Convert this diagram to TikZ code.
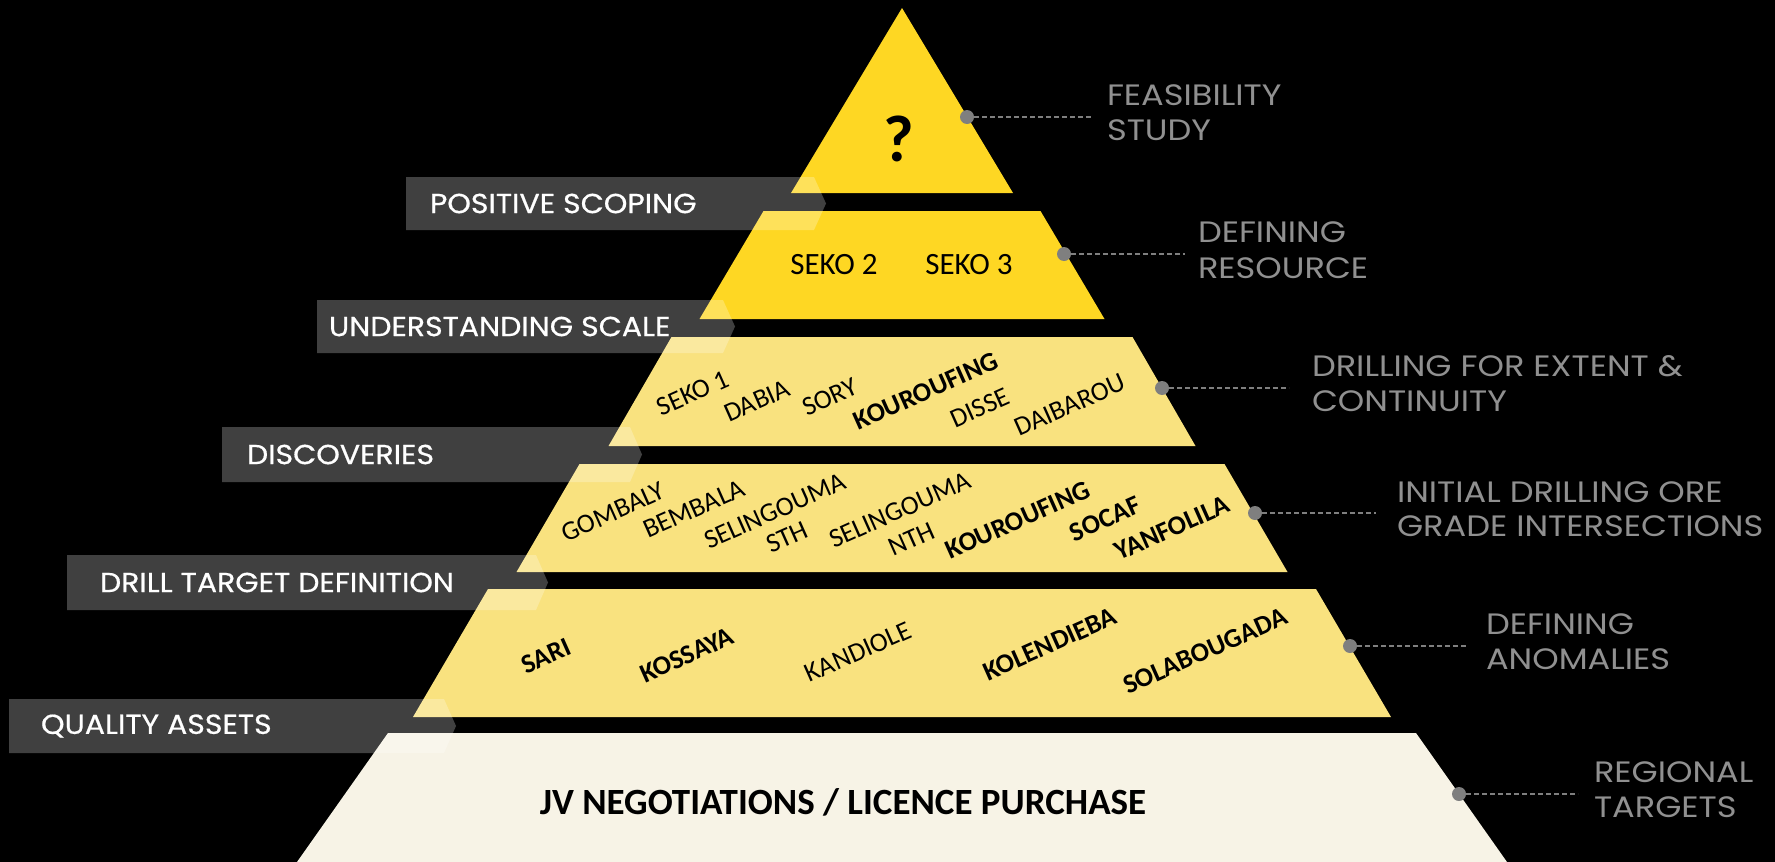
\documentclass[tikz,border=0pt]{standalone}
\usepackage{fontspec}
\setmainfont{Carlito}
\newfontfamily\labfont{Poppins}
\newfontfamily\banfont[FakeBold=0.6]{Poppins}
\definecolor{bright}{HTML}{FED723}
\definecolor{pale}{HTML}{F9E27F}
\definecolor{cream}{HTML}{F7F3E6}
\definecolor{labgray}{HTML}{909090}
\definecolor{dotgray}{HTML}{7F7F7F}
\newcommand{\trappath}[4]{({902-#2},#1) -- ({902+#2},#1) -- ({902+#4},#3) -- ({902-#4},#3) -- cycle}
\newcommand{\banpath}[4]{(#1,#3) -- ({#2-12},#3) -- (#2,{(#3+#4)/2}) -- ({#2-12},#4) -- (#1,#4) -- cycle}
\begin{document}
\begin{tikzpicture}[x=1pt,y=-1pt,
  every node/.style={inner sep=0pt, outer sep=0pt},
  bantext/.style={anchor=west, text=white, xscale=1.09, font=\banfont\fontsize{27.5}{33}\selectfont},
  lab/.style={anchor=base west, text=labgray, xscale=1.14, font=\labfont\fontsize{29.5}{35}\selectfont},
  dotn/.style={circle, fill=dotgray, minimum size=14pt},
  dashline/.style={draw=dotgray, line width=1.5pt, dash pattern=on 5pt off 3pt},
  site/.style={rotate=24, font=\fontsize{27}{32}\selectfont},
  bsite/.style={rotate=24, font=\bfseries\fontsize{27}{32}\selectfont},
  banfill/.style={fill=white, fill opacity=0.25}
]
\fill[black] (0,0) rectangle (1775,862);
\useasboundingbox (0,0) rectangle (1775,862);

% pyramid layers
\fill[bright] (902,8) -- (1013,193) -- (791,193) -- cycle;
\fill[bright] \trappath{211}{138.5}{319}{202.5};
\fill[pale]   \trappath{337}{230.5}{446}{293.5};
\fill[pale]   \trappath{464}{322.5}{572}{385.5};
\fill[pale]   \trappath{589}{414}{717}{489};
\fill[cream]  \trappath{733}{514}{862}{605};

% banners (translucent)
\fill[banfill] \banpath{406}{826}{177}{230};
\fill[banfill] \banpath{317}{735}{300}{353};
\fill[banfill] \banpath{222}{642}{427}{482};
\fill[banfill] \banpath{67}{548}{555}{610};
\fill[banfill] \banpath{9}{456}{699}{753};

\node[bantext] (b1) at (430,203.5) {POSITIVE SCOPING};
\node[bantext] (b2) at (329,326.5) {UNDERSTANDING SCALE};
\node[bantext] (b3) at (247,454.5) {DISCOVERIES};
\node[bantext] (b4) at (100,582.5) {DRILL TARGET DEFINITION};
\node[bantext] (b5) at (41,726) {QUALITY ASSETS};

% layer texts
\node[font=\bfseries\fontsize{66}{70}\selectfont] (q) at (899,139) {?};
\node[font=\fontsize{31}{36}\selectfont] (s2) at (834,265) {SEKO 2};
\node[font=\fontsize{31}{36}\selectfont] (s3) at (969,265) {SEKO 3};

\node[site] (t31) at (693,393) {SEKO 1};
\node[site] (t32) at (757,401) {DABIA};
\node[site] (t33) at (830,397) {SORY};
\node[bsite] (t34) at (926,391) {KOUROUFING};
\node[site] (t35) at (980,408) {DISSE};
\node[site] (t36) at (1070,405) {DAIBAROU};

\node[site] (t41) at (613,512) {GOMBALY};
\node[site] (t42) at (694,509) {BEMBALA};
\node[site] (t43) at (775,511) {SELINGOUMA};
\node[site] (t43b) at (787,537) {STH};
\node[site] (t44) at (900,510) {SELINGOUMA};
\node[site] (t44b) at (912,539) {NTH};
\node[bsite] (t45) at (1018,520) {KOUROUFING};
\node[bsite] (t46) at (1105,519) {SOCAF};
\node[bsite] (t47) at (1172,528) {YANFOLILA};

\node[bsite] (t51) at (546,656) {SARI};
\node[bsite] (t52) at (687,655) {KOSSAYA};
\node[site] (t53) at (858,652) {KANDIOLE};
\node[bsite] (t54) at (1050,644) {KOLENDIEBA};
\node[bsite] (t55) at (1205,651) {SOLABOUGADA};

\node[font=\bfseries\fontsize{37}{42}\selectfont] (jv) at (843,802) {JV NEGOTIATIONS / LICENCE PURCHASE};

% right-hand labels
\node[dotn] (d1) at (967,117) {};
\node[dotn] (d2) at (1064,254) {};
\node[dotn] (d3) at (1162,388) {};
\node[dotn] (d4) at (1255,513) {};
\node[dotn] (d5) at (1350,646) {};
\node[dotn] (d6) at (1459,794) {};

\coordinate (e1) at (1093,117);
\coordinate (e2) at (1185,254);
\coordinate (e3) at (1289,388);
\coordinate (e4) at (1376,513);
\coordinate (e5) at (1468,646);
\coordinate (e6) at (1578,794);

\draw[dashline] (d1.east) -- (e1);
\draw[dashline] (d2.east) -- (e2);
\draw[dashline] (d3.east) -- (e3);
\draw[dashline] (d4.east) -- (e4);
\draw[dashline] (d5.east) -- (e5);
\draw[dashline] (d6.east) -- (e6);

\node[lab] (l1) at (1107,105) {FEASIBILITY};
\node[lab] (l1b) at (1107,140) {STUDY};
\node[lab] (l2) at (1198,242) {DEFINING};
\node[lab] (l2b) at (1198,278) {RESOURCE};
\node[lab] (l3) at (1312,376) {DRILLING FOR EXTENT \&};
\node[lab] (l3b) at (1312,411) {CONTINUITY};
\node[lab] (l4) at (1397,502) {INITIAL DRILLING ORE};
\node[lab] (l4b) at (1397,536) {GRADE INTERSECTIONS};
\node[lab] (l5) at (1486,634) {DEFINING};
\node[lab] (l5b) at (1486,669) {ANOMALIES};
\node[lab] (l6) at (1594,782) {REGIONAL};
\node[lab] (l6b) at (1594,817) {TARGETS};
\end{tikzpicture}
\end{document}
